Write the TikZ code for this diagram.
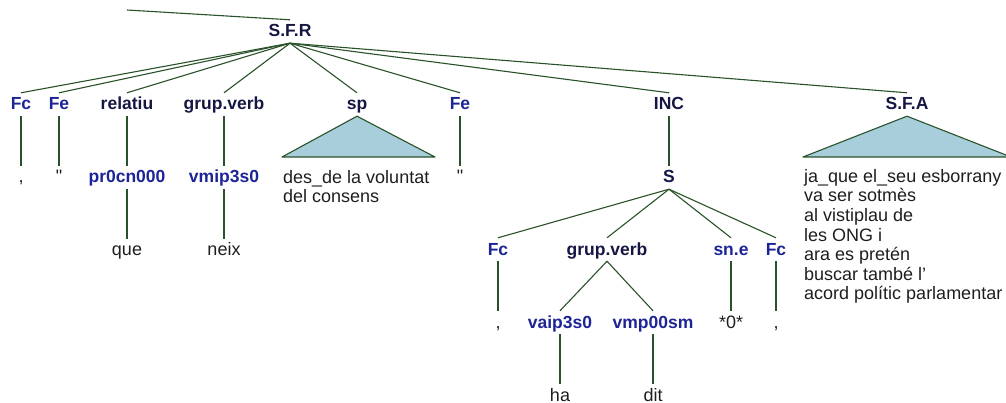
\documentclass[tikz,border=0pt]{standalone}
\usepackage{fontspec}
\setmainfont{Liberation Sans}
\newfontfamily\rawfont{Liberation Sans}
\definecolor{navy}{RGB}{22,22,68}
\definecolor{tagblue}{RGB}{28,36,150}
\definecolor{edgegreen}{RGB}{42,82,42}
\definecolor{trifill}{RGB}{168,206,220}
\definecolor{leafgray}{RGB}{30,30,30}
\begin{document}
\begin{tikzpicture}[x=1pt,y=-1pt,
  lab/.style={anchor=base, inner xsep=0pt, inner ysep=2pt, text height=15pt, text depth=4pt,
    font=\fontsize{17.5}{20}\selectfont\bfseries},
  dark/.style={lab, text=navy},
  blu/.style={lab, text=tagblue},
  leaf/.style={anchor=base, inner xsep=0pt, inner ysep=2pt, text height=15pt, text depth=4pt,
    font=\fontsize{18}{20}\selectfont, text=leafgray},
  yield/.style={anchor=north west, inner sep=0pt, align=left, text=leafgray,
    font=\fontsize{18}{19.6}\selectfont},
  edge/.style={draw=edgegreen, line width=1.1pt},
  tri/.style={draw=edgegreen, fill=trifill, line width=1.1pt, line join=round}]
\useasboundingbox (0,0) rectangle (1006,403);

% top level
\coordinate (top) at (127,10);
\node[dark] (sfr) at (290,37) {S.F.R};

\node[blu]  (fc1) at (21,110) {Fc};
\node[blu]  (fe1) at (59,110) {Fe};
\node[dark] (rel) at (127,110) {relatiu};
\node[dark] (gv1) at (224,110) {grup.verb};
\node[dark] (sp)  at (357,110) {sp};
\node[blu]  (fe2) at (460,110) {Fe};
\node[dark] (inc) at (669,110) {INC};
\node[dark] (sfa) at (907,110) {S.F.A};

% second row
\node[leaf] (c1) at (21,183) {,};
\node[leaf] (q1) at (59,183) {\rawfont "};
\node[blu]  (pr) at (127,183) {pr0cn000};
\node[blu]  (vm) at (224,183) {vmip3s0};
\node[leaf] (q2) at (460,183) {\rawfont "};
\node[dark] (s)  at (669,183) {S};

\node[leaf] (que)  at (127,256) {que};
\node[leaf] (neix) at (224,256) {neix};

% S children
\node[blu]  (fc2) at (498,255) {Fc};
\node[dark] (gv2) at (607,255) {grup.verb};
\node[blu]  (sne) at (731,255) {sn.e};
\node[blu]  (fc3) at (776,255) {Fc};

\node[leaf] (c2)   at (498,328) {,};
\node[blu]  (vaip) at (560,328) {vaip3s0};
\node[blu]  (vmp)  at (653,328) {vmp00sm};
\node[leaf] (zero) at (731,328) {*0*};
\node[leaf] (c3)   at (776,328) {,};

\node[leaf] (ha)  at (560,401) {ha};
\node[leaf] (dit) at (653,401) {dit};

% triangles
\coordinate (spL) at (282,157);
\coordinate (spR) at (435,157);
\draw[tri] (sp.south) -- (spL) -- (spR) -- cycle;
\coordinate (sfaL) at (803,157);
\coordinate (sfaR) at (1011,157);
\draw[tri] (sfa.south) -- (sfaL) -- (sfaR) -- cycle;

\node[yield] (spy) at (283,170) {des\_de la voluntat\\del consens};
\node[yield] (sfay) at (804,169) {ja\_que el\_seu esborrany\\va ser sotmès\\al vistiplau de\\les ONG i\\ara es pretén\\buscar també l’\\acord polític parlamentar};

% edges
\draw[edge] (top) -- (sfr.north);
\foreach \c in {fc1,fe1,rel,gv1,sp,fe2,inc,sfa}
  \draw[edge] (sfr.south) -- (\c.north);
\draw[edge] (fc1.south) -- (c1.north);
\draw[edge] (fe1.south) -- (q1.north);
\draw[edge] (rel.south) -- (pr.north);
\draw[edge] (gv1.south) -- (vm.north);
\draw[edge] (fe2.south) -- (q2.north);
\draw[edge] (inc.south) -- (s.north);
\draw[edge] (pr.south) -- (que.north);
\draw[edge] (vm.south) -- (neix.north);
\foreach \c in {fc2,gv2,sne,fc3}
  \draw[edge] (s.south) -- (\c.north);
\draw[edge] (fc2.south) -- (c2.north);
\draw[edge] (gv2.south) -- (vaip.north);
\draw[edge] (gv2.south) -- (vmp.north);
\draw[edge] (sne.south) -- (zero.north);
\draw[edge] (fc3.south) -- (c3.north);
\draw[edge] (vaip.south) -- (ha.north);
\draw[edge] (vmp.south) -- (dit.north);
\end{tikzpicture}
\end{document}
